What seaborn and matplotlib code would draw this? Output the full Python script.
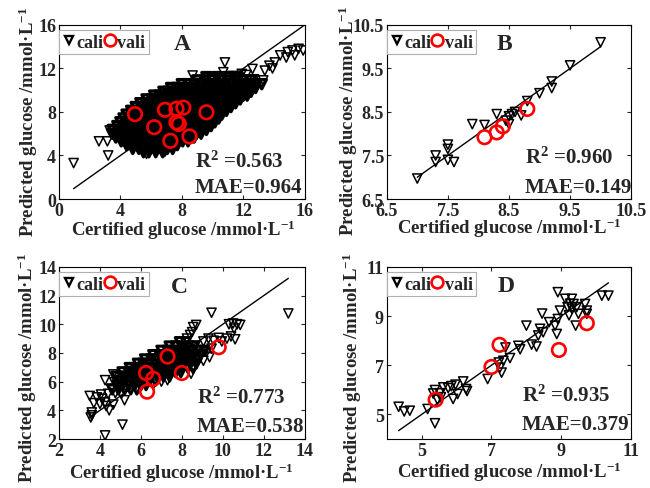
import matplotlib
matplotlib.use("Agg")
import matplotlib.pyplot as plt
import seaborn as sns
import pandas as pd
from matplotlib.lines import Line2D

# ---------------- Panel A data ----------------
A_cloud_rows = [
    (4.30, [5.5, 5.85, 6.3, 6.75]),
    (4.60, [4.8, 5.2, 5.6, 5.95, 6.35, 6.7, 7.05, 7.4]),
    (4.95, [4.4, 4.8, 5.15, 5.5, 5.9, 6.25, 6.6, 7.0, 7.35, 7.7]),
    (5.30, [4.05, 4.4, 4.75, 5.1, 5.5, 5.85, 6.2, 6.6, 6.95, 7.3, 7.7, 8.05, 8.4]),
    (5.65, [3.7, 4.05, 4.4, 4.8, 5.15, 5.5, 5.9, 6.25, 6.6, 7.0, 7.35, 7.7, 8.1, 8.45, 8.8]),
    (6.00, [3.45, 3.8, 4.15, 4.55, 4.9, 5.25, 5.65, 6.0, 6.35, 6.75, 7.1, 7.45, 7.85, 8.2, 8.55, 8.95, 9.25]),
    (6.35, [3.5, 3.85, 4.2, 4.6, 4.95, 5.3, 5.7, 6.05, 6.4, 6.8, 7.15, 7.5, 7.9, 8.25, 8.6, 8.95, 9.3, 9.6]),
    (6.70, [3.8, 4.15, 4.5, 4.9, 5.25, 5.6, 6.0, 6.35, 6.7, 7.1, 7.45, 7.8, 8.2, 8.55, 8.9, 9.25, 9.6, 9.9]),
    (7.05, [4.0, 4.35, 4.7, 5.1, 5.45, 5.8, 6.2, 6.55, 6.9, 7.3, 7.65, 8.0, 8.4, 8.75, 9.1, 9.45, 9.8, 10.15]),
    (7.40, [4.2, 4.55, 4.9, 5.3, 5.65, 6.0, 6.4, 6.75, 7.1, 7.5, 7.85, 8.2, 8.6, 8.95, 9.3, 9.65, 10.0, 10.4]),
    (7.75, [4.4, 4.75, 5.1, 5.5, 5.85, 6.2, 6.6, 6.95, 7.3, 7.7, 8.05, 8.4, 8.8, 9.15, 9.5, 9.85, 10.2, 10.6]),
    (8.10, [4.7, 5.05, 5.4, 5.8, 6.15, 6.5, 6.9, 7.25, 7.6, 8.0, 8.35, 8.7, 9.1, 9.45, 9.8, 10.15, 10.5, 10.9]),
    (8.45, [5.0, 5.35, 5.7, 6.1, 6.45, 6.8, 7.2, 7.55, 7.9, 8.3, 8.65, 9.0, 9.4, 9.75, 10.1, 10.45, 10.8, 11.2]),
    (8.80, [5.3, 5.65, 6.0, 6.4, 6.75, 7.1, 7.5, 7.85, 8.2, 8.6, 8.95, 9.3, 9.7, 10.05, 10.4, 10.75, 11.1, 11.5]),
    (9.15, [5.7, 6.05, 6.4, 6.8, 7.15, 7.5, 7.9, 8.25, 8.6, 9.0, 9.35, 9.7, 10.1, 10.45, 10.8, 11.15, 11.5, 11.8]),
    (9.50, [6.2, 6.55, 6.9, 7.3, 7.65, 8.0, 8.4, 8.75, 9.1, 9.5, 9.85, 10.2, 10.6, 10.95, 11.3, 11.65, 12.0, 12.25]),
    (9.85, [6.8, 7.1, 7.45, 7.8, 8.15, 8.5, 8.9, 9.25, 9.6, 10.0, 10.35, 10.7, 11.1, 11.45, 11.8, 12.15, 12.5]),
    (10.20, [7.3, 7.65, 8.0, 8.4, 8.75, 9.1, 9.5, 9.85, 10.2, 10.6, 10.95, 11.3, 11.7, 12.05, 12.4, 12.8]),
    (10.55, [8.0, 8.4, 8.8, 9.2, 9.6, 10.0, 10.4, 10.8, 11.2, 11.6, 12.0, 12.4, 12.8, 13.2]),
    (10.90, [9.0, 9.5, 10.0, 10.5, 11.0, 11.5, 12.0, 12.5]),
    (11.20, [9.6, 10.3, 11.0, 11.6]),
]
A_extra_x = [0.95, 2.6, 3.15, 3.2, 4.4, 5.7, 6.9, 7.4, 3.3, 8.7, 9.95, 10.7, 10.8, 11.3,
             11.9, 12.2, 12.6, 12.7, 13.2, 13.3, 13.4, 13.7, 13.9, 14.05, 14.4, 14.8,
             14.9, 15.2, 15.35, 15.6, 15.9]
A_extra_y = [3.3, 5.3, 5.3, 4.0, 4.9, 4.15, 4.35, 4.75, 6.3, 11.35, 11.2, 11.65, 12.55, 11.3,
             11.5, 11.4, 11.95, 11.0, 10.6, 10.9, 11.8, 12.25, 12.0, 12.55, 13.2, 13.0,
             13.5, 13.65, 13.2, 13.8, 13.65]
A_vali_x = [4.95, 6.9, 7.65, 8.1, 6.2, 7.65, 7.8, 7.25, 8.5, 9.6]
A_vali_y = [7.8, 8.2, 8.3, 8.4, 6.6, 7.05, 6.9, 5.35, 5.75, 7.97]

# ---------------- Panel B data ----------------
B_cali_x = [7.0, 7.3, 7.3, 7.5, 7.5, 7.5, 7.6, 7.9, 8.1, 8.3, 8.5, 8.5, 8.6, 8.7,
            8.8, 9.0, 9.2, 9.2, 9.5, 10.0, 8.55, 8.45]
B_cali_y = [6.97, 7.5, 7.35, 7.75, 7.65, 7.4, 7.35, 8.22, 8.2, 8.45, 8.22, 8.4, 8.5, 8.42,
            8.75, 8.93, 9.2, 9.05, 9.57, 10.1, 8.45, 8.3]
B_vali_x = [8.1, 8.3, 8.4, 8.8]
B_vali_y = [7.92, 8.03, 8.17, 8.57]

# ---------------- Panel C data ----------------
C_cloud_rows = [
    (5.45, [4.6, 4.9, 5.2, 5.5, 5.8]),
    (5.75, [4.85, 5.1, 5.4, 5.7, 6.0, 6.25]),
    (6.05, [4.95, 5.25, 5.55, 5.8, 6.1, 6.4, 6.7]),
    (6.35, [4.8, 5.1, 5.35, 5.65, 5.95, 6.2, 6.5, 6.8, 7.1, 7.4]),
    (6.65, [5.1, 5.4, 5.7, 5.95, 6.25, 6.55, 6.85, 7.1, 7.4, 7.7, 7.95]),
    (6.95, [5.45, 5.75, 6.0, 6.3, 6.6, 6.9, 7.15, 7.45, 7.75, 8.0, 8.3, 8.55]),
    (7.25, [5.85, 6.1, 6.4, 6.7, 7.0, 7.25, 7.55, 7.85, 8.1, 8.4, 8.7]),
    (7.55, [6.2, 6.5, 6.8, 7.05, 7.35, 7.65, 7.95, 8.2, 8.5, 8.8]),
    (7.85, [6.6, 6.9, 7.15, 7.45, 7.75, 8.05, 8.3, 8.6, 8.9]),
    (8.15, [7.0, 7.3, 7.6, 7.9, 8.2, 8.5, 8.8, 9.1]),
    (8.45, [7.4, 7.7, 8.0, 8.3, 8.6]),
    (8.75, [7.9, 8.2]),
]
C_extra_x = [3.5, 3.85, 4.1, 4.4, 4.55, 4.25, 5.05, 5.2, 4.3, 4.65, 3.6, 3.55, 3.6, 4.9,
             5.05, 4.25, 5.1, 4.25, 4.65, 4.7, 5.55, 4.75, 4.95, 4.0, 3.7, 4.45, 4.05,
             9.45, 13.2, 10.3, 10.5, 10.7, 10.85, 10.55, 10.4, 10.6, 10.2, 9.8, 9.55,
             9.3, 9.05, 9.95, 8.55, 8.5, 8.4, 8.25, 7.95, 8.3, 8.65, 8.8, 8.95, 8.7,
             9.2, 9.45, 9.05, 8.4, 8.45, 7.65, 9.35, 8.7, 7.3, 7.0, 6.6]
C_extra_y = [5.0, 4.9, 4.8, 5.15, 5.5, 4.55, 5.15, 4.7, 4.3, 4.4, 3.85, 3.5, 3.65, 5.7,
             6.1, 2.25, 3.0, 6.1, 6.5, 5.95, 6.75, 5.2, 5.55, 4.45, 4.5, 4.0, 5.1,
             10.8, 10.75, 10.0, 10.05, 10.0, 9.95, 9.7, 9.15, 8.95, 9.0, 9.05, 8.85,
             9.0, 8.8, 8.8, 9.8, 9.45, 9.25, 9.0, 8.75, 8.4, 8.5, 8.15, 7.95, 7.6,
             8.05, 8.3, 7.45, 7.7, 6.55, 6.9, 7.7, 9.95, 6.1, 6.0, 5.8]
C_vali_x = [7.3, 6.25, 6.6, 8.0, 6.3, 9.8]
C_vali_y = [7.75, 6.6, 6.2, 6.6, 5.3, 8.4]

# ---------------- Panel D data ----------------
D_cali_x = [4.34, 4.5, 4.66, 5.17, 5.38, 5.38, 5.33, 5.52, 5.62, 5.76, 5.9, 6.03, 5.97,
            6.19, 6.27, 6.3, 5.45, 5.55, 5.85, 6.89, 7.21, 7.24, 7.29, 7.34, 7.4, 7.53,
            7.77, 7.82, 8.0, 8.15, 8.29, 8.34, 8.39, 8.48, 8.45, 8.65, 8.82, 8.87, 8.9,
            8.9, 8.96, 9.11, 9.18, 9.22, 9.3, 9.35, 9.41, 9.44, 9.49, 9.68, 9.73, 9.73,
            10.16, 10.35, 9.25, 9.3]
D_cali_y = [5.31, 5.12, 5.15, 5.22, 4.64, 5.99, 5.85, 5.86, 6.1, 6.07, 5.63, 5.83, 6.21,
            6.34, 6.03, 5.95, 5.6, 5.7, 6.15, 6.44, 7.11, 6.9, 6.7, 7.18, 7.72, 7.29,
            7.79, 7.65, 8.61, 7.84, 7.76, 8.21, 8.48, 8.34, 9.1, 8.75, 8.61, 8.27, 8.88,
            9.97, 9.22, 9.7, 9.36, 9.03, 9.7, 9.49, 8.61, 9.36, 9.09, 9.49, 9.22, 9.09,
            9.83, 9.83, 9.5, 9.3]
D_vali_x = [5.4, 7.0, 7.23, 8.93, 9.73]
D_vali_y = [5.6, 6.93, 7.83, 7.62, 8.71]

# ---------------- Axis settings / labels ----------------
A_ticks = [0, 4, 8, 12, 16]
A_ticklabels = ["0", "4", "8", "12", "16"]
B_ticks = [6.5, 7.5, 8.5, 9.5, 10.5]
B_ticklabels = ["6.5", "7.5", "8.5", "9.5", "10.5"]
C_ticks = [2, 4, 6, 8, 10, 12, 14]
C_ticklabels = ["2", "4", "6", "8", "10", "12", "14"]
D_ticks = [5, 7, 9, 11]
D_ticklabels = ["5", "7", "9", "11"]

letters = ["A", "B", "C", "D"]
r2_values = ["0.563", "0.960", "0.773", "0.935"]
mae_values = ["0.964", "0.149", "0.538", "0.379"]
legend_labels = ["cali", "vali"]
xlabel = "Certified glucose /mmol\u00b7L$^{-1}$"
ylabel = "Predicted glucose /mmol\u00b7L$^{-1}$"


def flatten_rows(rows):
    xs, ys = [], []
    for yv, xl in rows:
        for xv in xl:
            xs.append(xv)
            ys.append(yv)
    return xs, ys


A_core_x, A_core_y = flatten_rows(A_cloud_rows)
C_core_x, C_core_y = flatten_rows(C_cloud_rows)

# ---------------- Style ----------------
sns.set_style("ticks")
plt.rcParams["font.family"] = ["Liberation Serif", "DejaVu Serif"]
plt.rcParams["font.weight"] = "bold"
plt.rcParams["axes.labelweight"] = "bold"
plt.rcParams["mathtext.fontset"] = "custom"
plt.rcParams["mathtext.rm"] = "Liberation Serif:bold"
plt.rcParams["mathtext.it"] = "Liberation Serif:bold"
plt.rcParams["mathtext.bf"] = "Liberation Serif:bold"
plt.rcParams["mathtext.default"] = "regular"

fig = plt.figure(figsize=(6.5, 4.89), dpi=100)

panels = [
    dict(pos=[0.0908, 0.591, 0.378, 0.356],
         groups=[(A_core_x, A_core_y, 2.4), (A_extra_x, A_extra_y, 1.1)],
         vx=A_vali_x, vy=A_vali_y,
         lim=(0, 16), ticks=A_ticks, tl=A_ticklabels,
         let=(0.5, 0.862), r2=(0.553, 0.185), mae=(0.553, 0.042),
         xl=(0.506, -0.205), yl=(-0.1, 0.45)),
    dict(pos=[0.595, 0.591, 0.376, 0.356],
         groups=[(B_cali_x, B_cali_y, 1.1)],
         vx=B_vali_x, vy=B_vali_y,
         lim=(6.5, 10.5), ticks=B_ticks, tl=B_ticklabels,
         let=(0.48, 0.862), r2=(0.566, 0.21), mae=(0.566, 0.042),
         xl=(0.5, -0.195), yl=(-0.132, 0.455)),
    dict(pos=[0.0908, 0.1002, 0.378, 0.352],
         groups=[(C_core_x, C_core_y, 2.2), (C_extra_x, C_extra_y, 1.1)],
         vx=C_vali_x, vy=C_vali_y,
         lim=(2, 14), ticks=C_ticks, tl=C_ticklabels,
         let=(0.49, 0.853), r2=(0.56, 0.213), mae=(0.56, 0.048),
         xl=(0.5, -0.226), yl=(-0.105, 0.42)),
    dict(pos=[0.595, 0.1002, 0.376, 0.352],
         groups=[(D_cali_x, D_cali_y, 1.1)],
         vx=D_vali_x, vy=D_vali_y,
         lim=(4, 11), ticks=D_ticks, tl=D_ticklabels,
         let=(0.49, 0.862), r2=(0.552, 0.22), mae=(0.552, 0.058),
         xl=(0.5, -0.218), yl=(-0.118, 0.42)),
]

for i, p in enumerate(panels):
    ax = fig.add_axes(p["pos"])
    all_x = []
    for gx, gy, glw in p["groups"]:
        all_x += list(gx)
        sns.scatterplot(x=gx, y=gy, marker="v", s=44, color="black",
                        facecolor="none", edgecolor="black", linewidth=glw, ax=ax,
                        zorder=2, legend=False)
    lo, hi = min(all_x), max(all_x)
    line = pd.DataFrame({"x": [lo, hi], "y": [lo, hi]})
    sns.lineplot(data=line, x="x", y="y", color="black", linewidth=1.0, ax=ax, zorder=3)
    sns.scatterplot(x=p["vx"], y=p["vy"], marker="o", s=95, color="red",
                    facecolor="none", edgecolor="red", linewidth=1.9, ax=ax,
                    zorder=4, legend=False)

    ax.set_xlim(*p["lim"])
    ax.set_ylim(*p["lim"])
    ax.set_xticks(p["ticks"], p["tl"])
    ax.set_yticks(p["ticks"], p["tl"])
    ax.tick_params(direction="in", length=3, width=0.8, top=True, right=True,
                   labelsize=13, pad=2)
    for sp in ax.spines.values():
        sp.set_visible(True)
        sp.set_color("black")
        sp.set_linewidth(0.8)

    ax.set_xlabel(xlabel, fontsize=13.5, fontweight="bold", va="baseline")
    ax.set_ylabel(ylabel, fontsize=13.5, fontweight="bold", va="baseline")
    ax.xaxis.set_label_coords(*p["xl"])
    ax.yaxis.set_label_coords(*p["yl"])

    ax.text(p["let"][0], p["let"][1], letters[i], transform=ax.transAxes,
            fontsize=17, fontweight="bold", ha="center", va="baseline")
    ax.text(p["r2"][0], p["r2"][1], "R$^2$ =" + r2_values[i], transform=ax.transAxes,
            fontsize=15, fontweight="bold", ha="left", va="baseline")
    ax.text(p["mae"][0], p["mae"][1], "MAE=" + mae_values[i], transform=ax.transAxes,
            fontsize=15, fontweight="bold", ha="left", va="baseline")

    handles = [
        Line2D([], [], marker="v", ls="none", mfc="none", mec="black", mew=1.7, ms=6),
        Line2D([], [], marker="o", ls="none", mfc="none", mec="red", mew=1.9, ms=8.5),
    ]
    leg = ax.legend(handles, legend_labels, ncol=2, loc="upper left",
                    bbox_to_anchor=(0.0, 0.97), borderaxespad=0, handlelength=0.7,
                    handletextpad=0.05, columnspacing=0.0, borderpad=0.2,
                    frameon=True, fancybox=False, framealpha=1,
                    prop={"weight": "bold", "size": 13})
    leg.get_frame().set_edgecolor("#b0b0b0")
    leg.get_frame().set_linewidth(0.8)

fig.savefig("out.png", dpi=100)
